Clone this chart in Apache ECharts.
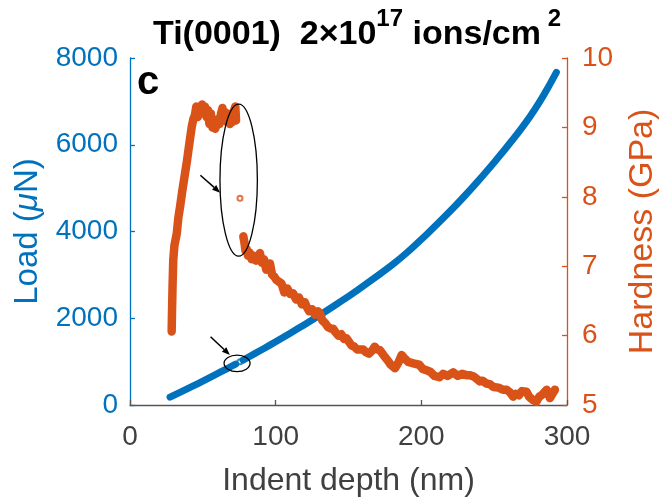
<!DOCTYPE html>
<html>
<head>
<meta charset="utf-8">
<script src="https://cdn.jsdelivr.net/npm/echarts@6.0.0/dist/echarts.min.js"></script>
<style>
  html, body { margin: 0; padding: 0; background: #fff; }
  #chart { width: 660px; height: 498px; }
</style>
</head>
<body>
<div id="chart"></div>
<script>
// Indentation load (µN) vs depth (nm); a few samples are missing around 74 nm
const loadDepthA = [27.5, 35, 43.4, 50, 58, 66.4, 72.5];
const loadA      = [180, 301, 440, 551, 688, 835, 944];
const loadDepthB = [77.6, 85, 92, 100, 110, 120, 130.4, 140, 150, 162.4, 171.5, 180.7, 190, 203.6, 212, 221.9, 230, 238, 246, 253.9, 261, 267.7, 275, 281.4, 287, 292.7];
const loadB      = [1036, 1172, 1304, 1458, 1655, 1858, 2075, 2282, 2506, 2796, 3017, 3250, 3510, 3932, 4205, 4542, 4830, 5126, 5434, 5750, 6045, 6333, 6670, 7000, 7320, 7670];
const loadLoneDepth = [75.5];
const loadLone      = [998];

// Hardness (GPa) vs depth (nm)
const hardDepthA = [28.6, 28.8, 29.2, 29.7, 30.5, 32.1, 33.2, 34.4, 36, 37.8, 39, 40.1, 41.3, 42.4, 43.5, 44.6, 45.5, 46.5, 47.5, 48.5, 49.5, 50.5, 51.5, 52.5, 53.5, 54.5, 55.5, 56.5, 57.5, 58.5, 59.5, 60.5, 61.5, 62.5, 63.5, 64.5, 65.5, 66.5, 67.5, 68.5, 69.5, 70.5, 71.5, 72.3, 72.8];
const hardnessA  = [6.06, 6.3, 6.7, 7.09, 7.3, 7.47, 7.7, 7.86, 8.1, 8.34, 8.5, 8.67, 8.85, 9.01, 9.12, 9.18, 9.3, 9.15, 9.3, 9.2, 9.33, 9.22, 9.3, 9.15, 9.25, 9.05, 9.2, 9.0, 9.1, 8.98, 9.05, 9.12, 9.05, 9.2, 9.28, 9.12, 9.22, 9.08, 9.18, 9.05, 9.2, 9.08, 9.25, 9.3, 9.1];
const hardDepthB = [77.8, 78.5, 79.3, 80.1, 81, 82, 83.5, 85, 86.5, 88, 89.2, 90.5, 92, 93.5, 95, 96.1, 97.5, 99, 100.6, 102, 104, 106, 108, 110, 112, 114, 116, 118, 120, 121.2, 123, 125, 127, 129, 130.4, 132, 134, 136, 138, 139.5, 141, 143, 145, 147, 148.7, 150, 152, 154, 156, 158, 160.1, 162, 164, 166, 168, 169.5, 171.6, 174, 177, 179, 181.9, 184, 186.5, 189, 191, 194.5, 198.6, 201, 203.6, 206, 209, 212.5, 215, 218, 221.9, 225, 228, 231, 233, 236, 240.2, 242, 244.5, 247, 249.4, 253, 256, 258.6, 261, 263, 265, 267, 269, 272.2, 274, 276.8, 279, 281, 283, 286, 288.3, 290, 291.7];
const hardnessB  = [7.43, 7.35, 7.22, 7.25, 7.15, 7.2, 7.1, 7.15, 7.08, 7.12, 7.19, 7.05, 7.1, 6.95, 7.0, 7.04, 6.88, 6.85, 6.8, 6.78, 6.75, 6.62, 6.68, 6.6, 6.61, 6.52, 6.55, 6.45, 6.48, 6.42, 6.35, 6.38, 6.3, 6.35, 6.32, 6.22, 6.18, 6.12, 6.1, 6.1, 6.05, 6.0, 6.02, 5.95, 5.96, 5.92, 5.86, 5.84, 5.8, 5.8, 5.8, 5.76, 5.74, 5.78, 5.84, 5.8, 5.79, 5.72, 5.64, 5.58, 5.53, 5.6, 5.72, 5.66, 5.62, 5.6, 5.58, 5.52, 5.5, 5.48, 5.42, 5.4, 5.45, 5.42, 5.47, 5.42, 5.45, 5.43, 5.43, 5.41, 5.34, 5.35, 5.31, 5.3, 5.26, 5.25, 5.22, 5.22, 5.18, 5.12, 5.16, 5.14, 5.2, 5.19, 5.12, 5.07, 5.05, 5.12, 5.15, 5.22, 5.1, 5.16, 5.22];
const hardLoneDepth = [75.5];
const hardLone      = [7.98];

// Axis ticks
const depthTicks = [0, 100, 200, 300];
const loadTicks = [0, 2000, 4000, 6000, 8000];
const hardTicks = [5, 6, 7, 8, 9, 10];

const BLUE = '#0072BD';
const ORANGE = '#D95319';
const GREY = '#404040';
const FONT = '"Liberation Sans", Arial, Helvetica, sans-serif';

const zip = (xs, ys) => xs.map((x, i) => [x, ys[i]]);
const plain = v => String(v);

const chart = echarts.init(document.getElementById('chart'), null, { renderer: 'canvas' });

const tickFont = 28;

chart.setOption({
  animation: false,
  backgroundColor: '#fff',
  textStyle: { fontFamily: FONT },
  grid: { left: 130, right: 93, top: 58, bottom: 93, containLabel: false, outerBoundsMode: 'none' },
  xAxis: {
    type: 'value',
    min: depthTicks[0], max: depthTicks[depthTicks.length - 1], interval: 100,
    name: 'Indent depth (nm)',
    nameLocation: 'middle', nameGap: 60,
    nameTextStyle: { fontSize: 32, color: GREY, fontFamily: FONT },
    axisLine: { show: true, onZero: false, lineStyle: { color: '#555', width: 1.3 } },
    axisTick: { show: true, inside: true, length: 5, lineStyle: { color: '#555', width: 1.3 } },
    axisLabel: { fontSize: tickFont, color: GREY, margin: 18, fontFamily: FONT, formatter: plain },
    splitLine: { show: false }
  },
  yAxis: [
    {
      type: 'value', position: 'left',
      min: loadTicks[0], max: loadTicks[loadTicks.length - 1], interval: 2000,
      name: '{n|Load (}{m|\u03bc}{n|N)}',
      nameLocation: 'middle', nameGap: 82, nameRotate: 90,
      nameTextStyle: {
        rich: {
          n: { fontSize: 33, color: BLUE, fontFamily: FONT },
          m: { fontSize: 33, color: BLUE, fontFamily: FONT, fontStyle: 'italic' }
        }
      },
      axisLine: { show: true, onZero: false, lineStyle: { color: BLUE, width: 1.3 } },
      axisTick: { show: true, inside: true, length: 5, lineStyle: { color: BLUE, width: 1.3 } },
      axisLabel: { fontSize: tickFont, color: BLUE, margin: 12, fontFamily: FONT, formatter: plain },
      splitLine: { show: false }
    },
    {
      type: 'value', position: 'right',
      min: hardTicks[0], max: hardTicks[hardTicks.length - 1], interval: 1,
      name: 'Hardness (GPa)',
      nameLocation: 'middle', nameGap: 59, nameRotate: 90,
      nameTextStyle: { fontSize: 34, color: ORANGE, fontFamily: FONT },
      axisLine: { show: true, onZero: false, lineStyle: { color: ORANGE, width: 1.3 } },
      axisTick: { show: true, inside: true, length: 5, lineStyle: { color: ORANGE, width: 1.3 } },
      axisLabel: { fontSize: tickFont, color: ORANGE, margin: 15, fontFamily: FONT, formatter: plain },
      splitLine: { show: false }
    }
  ],
  series: [
    {
      name: 'load-a', type: 'line', yAxisIndex: 0, data: zip(loadDepthA, loadA),
      showSymbol: false, smooth: 0.2,
      lineStyle: { color: BLUE, width: 7, cap: 'round', join: 'round' }
    },
    {
      name: 'load-b', type: 'line', yAxisIndex: 0, data: zip(loadDepthB, loadB),
      showSymbol: false, smooth: 0.2,
      lineStyle: { color: BLUE, width: 7, cap: 'round', join: 'round' }
    },
    {
      name: 'load-lone', type: 'scatter', yAxisIndex: 0, data: zip(loadLoneDepth, loadLone),
      symbol: 'emptyCircle', symbolSize: 5,
      itemStyle: { color: BLUE, borderColor: BLUE, borderWidth: 1.2 }
    },
    {
      name: 'hard-a', type: 'line', yAxisIndex: 1, data: zip(hardDepthA, hardnessA),
      showSymbol: false,
      lineStyle: { color: ORANGE, width: 8.5, cap: 'round', join: 'round' }
    },
    {
      name: 'hard-b', type: 'line', yAxisIndex: 1, data: zip(hardDepthB, hardnessB),
      showSymbol: false,
      lineStyle: { color: ORANGE, width: 8.5, cap: 'round', join: 'round' }
    },
    {
      name: 'hard-lone', type: 'scatter', yAxisIndex: 1, data: zip(hardLoneDepth, hardLone),
      symbol: 'emptyCircle', symbolSize: 5,
      itemStyle: { color: ORANGE, borderColor: ORANGE, borderWidth: 1.2 }
    }
  ]
});

// Annotations: ellipses around the missing samples, with pointing arrows (data coordinates)
const hardEllipse = { depth: 74.6, value: 8.24, rx: 18.7, ry: 76 };
const loadEllipse = { depth: 73.5, value: 960, rx: 13, ry: 8.3 };
const hardArrow = { from: [48.3, 8.31], to: [61.9, 8.06] };
const loadArrow = { from: [55.3, 1575], to: [68.6, 1153] };

function px(yIndex, pt) {
  return chart.convertToPixel({ xAxisIndex: 0, yAxisIndex: yIndex }, pt);
}

function arrow(a, b) {
  const dx = b[0] - a[0], dy = b[1] - a[1];
  const len = Math.hypot(dx, dy);
  const ux = dx / len, uy = dy / len;
  const hl = 8, hw = 3.2;
  const base = [b[0] - ux * hl, b[1] - uy * hl];
  return [
    { type: 'line', shape: { x1: a[0], y1: a[1], x2: base[0], y2: base[1] }, style: { stroke: '#000', lineWidth: 1.5 }, z: 100 },
    { type: 'polygon', shape: { points: [b, [base[0] - uy * hw, base[1] + ux * hw], [base[0] + uy * hw, base[1] - ux * hw]] }, style: { fill: '#000' }, z: 100 }
  ];
}

const hc = px(1, [hardEllipse.depth, hardEllipse.value]);
const lc = px(0, [loadEllipse.depth, loadEllipse.value]);
const graphics = [
  { type: 'ellipse', shape: { cx: hc[0], cy: hc[1], rx: hardEllipse.rx, ry: hardEllipse.ry }, style: { stroke: '#000', fill: null, lineWidth: 1.3 }, z: 100 },
  { type: 'ellipse', shape: { cx: lc[0], cy: lc[1], rx: loadEllipse.rx, ry: loadEllipse.ry }, style: { stroke: '#000', fill: null, lineWidth: 1.3 }, z: 100 },
  ...arrow(px(1, hardArrow.from), px(1, hardArrow.to)),
  ...arrow(px(0, loadArrow.from), px(0, loadArrow.to)),
  { type: 'text', left: 137, top: 63, style: { text: 'c', font: 'bold 40px ' + FONT, fill: '#000' }, z: 100 },
  {
    type: 'text', z: 100,
    style: {
      x: 357, y: 7.5, align: 'center', verticalAlign: 'top',
      text: '{t|Ti(0001)  2\u00d710}{s|17}{t| ions/cm}{s| 2}',
      rich: {
        t: { fontSize: 34, fontWeight: 'bold', fill: '#000', fontFamily: FONT, lineHeight: 44, verticalAlign: 'bottom' },
        s: { fontSize: 24, fontWeight: 'bold', fill: '#000', fontFamily: FONT, lineHeight: 44, verticalAlign: 'top' }
      }
    }
  }
];
chart.setOption({ graphic: graphics });
</script>
</body>
</html>
